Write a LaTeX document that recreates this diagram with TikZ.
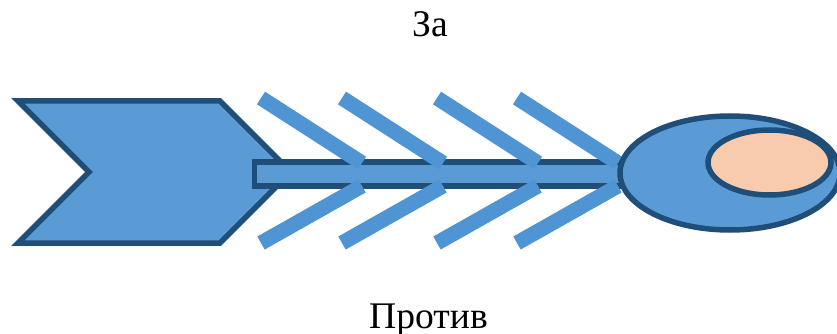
\documentclass[tikz,border=0pt]{standalone}
\usepackage{fontspec}
\setmainfont{Liberation Serif}
\definecolor{fishfill}{HTML}{5B9BD5}
\definecolor{fishline}{HTML}{1F4E79}
\definecolor{bonecol}{HTML}{4F95D3}
\definecolor{eyefill}{HTML}{F8CBAD}
\tikzset{
  fishpart/.style={fill=fishfill, draw=fishline, line width=5.5pt, line join=miter},
  bone/.style={draw=bonecol, line width=15pt, line cap=butt},
  lbl/.style={font=\fontsize{37.6}{40}\selectfont, anchor=base, inner sep=0pt}
}
\begin{document}
\begin{tikzpicture}[x=1pt,y=-1pt]
\useasboundingbox (0,0) rectangle (837,334);
% tail
\draw[fishpart] (18,101) -- (220,101) -- (291,172) -- (220,243) -- (18,243) -- (89,172) -- cycle;
% spine
\draw[fishpart] (254.5,162) rectangle (640,186);
% bones
\foreach \dx in {0,81,176,256}{
  \draw[bone] (261+\dx,98) -- (362+\dx,163);
  \draw[bone] (261+\dx,243) -- (362+\dx,186);
}
% head
\draw[fishpart] (730,173) ellipse [x radius=110, y radius=57];
\draw[fill=eyefill, draw=fishline, line width=5.5pt] (769.5,162.5) ellipse [x radius=61.5, y radius=32.5];
% labels
\node[lbl] (za) at (430,37) {За};
\node[lbl] (protiv) at (428.5,328) {Против};
\end{tikzpicture}
\end{document}
